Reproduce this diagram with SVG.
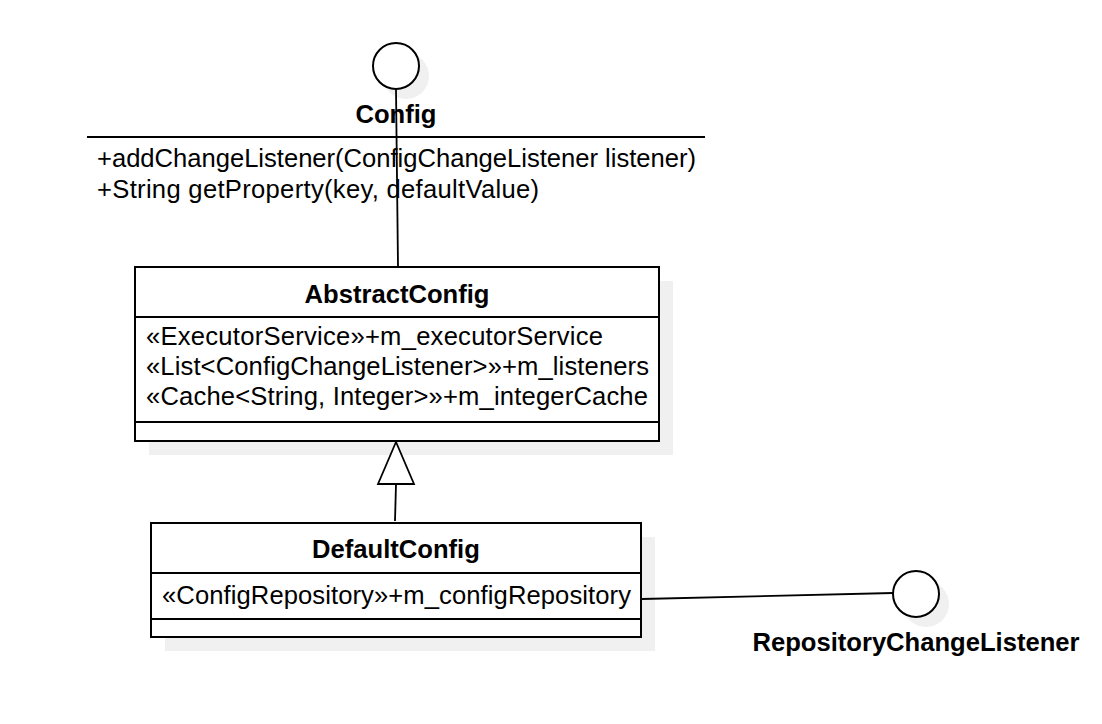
<svg xmlns="http://www.w3.org/2000/svg" width="1102" height="724" viewBox="0 0 1102 724">
<style>
text{font-family:"Liberation Sans",Arial,sans-serif;font-size:25.6px;fill:#000}
.b{font-weight:bold;text-anchor:middle}
.box{fill:#fff;stroke:#000;stroke-width:2}
.sh{fill:#f0f0f0;stroke:none}
.ln{stroke:#000;stroke-width:2;fill:none}
.edge{stroke:#000;stroke-width:1.8;fill:none}
</style>
<rect width="1102" height="724" fill="#fff"/>
<g id="Config">
<circle class="sh" cx="406" cy="76" r="23"/>
<circle class="box" cx="396" cy="66" r="23"/>
<text class="b" x="396" y="123">Config</text>
<line class="ln" x1="87" y1="137" x2="705" y2="137"/>
<text x="97" y="167" textLength="599" lengthAdjust="spacing">+addChangeListener(ConfigChangeListener listener)</text>
<text x="97" y="198" textLength="442" lengthAdjust="spacing">+String getProperty(key, defaultValue)</text>
</g>
<g id="AbstractConfig">
<rect class="sh" x="149" y="281" width="524" height="174"/>
<rect class="box" x="135" y="267" width="524" height="174"/>
<line class="ln" x1="135" y1="317" x2="659" y2="317"/>
<line class="ln" x1="135" y1="422" x2="659" y2="422"/>
<text class="b" x="397" y="303">AbstractConfig</text>
<text x="146" y="345" textLength="457" lengthAdjust="spacing">«ExecutorService»+m_executorService</text>
<text x="146" y="375" textLength="503" lengthAdjust="spacing">«List&lt;ConfigChangeListener&gt;»+m_listeners</text>
<text x="146" y="405" textLength="502" lengthAdjust="spacing">«Cache&lt;String, Integer&gt;»+m_integerCache</text>
</g>
<g id="DefaultConfig">
<rect class="sh" x="165" y="537" width="490" height="114"/>
<rect class="box" x="151" y="523" width="490" height="114"/>
<line class="ln" x1="151" y1="573" x2="641" y2="573"/>
<line class="ln" x1="151" y1="619" x2="641" y2="619"/>
<text class="b" x="396" y="558">DefaultConfig</text>
<text x="162" y="604" textLength="469" lengthAdjust="spacing">«ConfigRepository»+m_configRepository</text>
</g>
<g id="RepositoryChangeListener">
<circle class="sh" cx="926" cy="604" r="23"/>
<circle class="box" cx="916" cy="594" r="23"/>
<text class="b" x="916" y="651">RepositoryChangeListener</text>
</g>
<g id="connectors">
<line class="edge" x1="396" y1="89" x2="398" y2="267"/>
<line class="edge" x1="395" y1="521" x2="396" y2="484"/>
<polygon class="edge" points="396,442 378,484 414,484" style="fill:#fff"/>
<line class="edge" x1="642" y1="599" x2="893" y2="593"/>
</g>
</svg>
